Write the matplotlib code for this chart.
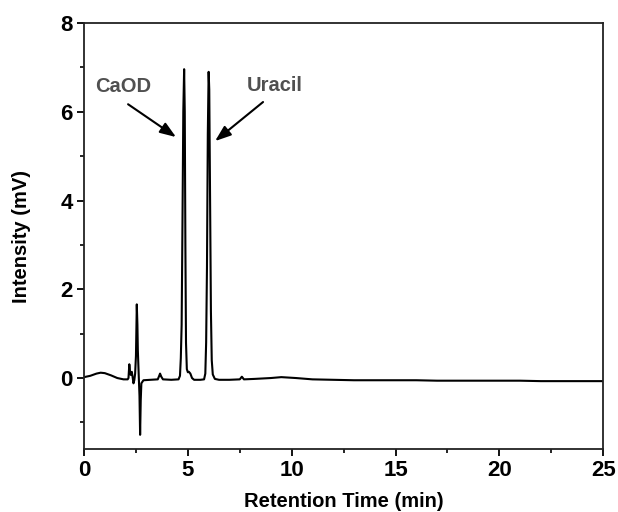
import matplotlib
matplotlib.use("Agg")
import matplotlib.pyplot as plt
from matplotlib.ticker import MultipleLocator

plt.rcParams['font.family'] = ['Liberation Sans', 'DejaVu Sans']
plt.rcParams['font.weight'] = 'bold'

# chromatogram trace (min, mV)
time_min = [0.0, 0.3, 0.6, 0.8, 1.0, 1.3, 1.6, 1.9, 2.1, 2.14, 2.18, 2.22, 2.25,
            2.30, 2.34, 2.38, 2.42, 2.46, 2.50, 2.54, 2.57, 2.59, 2.63, 2.67, 2.70,
            2.73, 2.76, 2.86, 3.2, 3.55, 3.62, 3.66, 3.72, 3.8, 4.2, 4.55, 4.62,
            4.66, 4.70, 4.74, 4.78, 4.82, 4.85, 4.88, 4.91, 4.95, 5.0, 5.05, 5.12,
            5.2, 5.3, 5.6, 5.78, 5.84, 5.88, 5.92, 5.96, 6.0, 6.03, 6.07, 6.11,
            6.15, 6.2, 6.3, 6.5, 7.0, 7.5, 7.6, 7.7, 8.2, 9.0, 9.5, 10.2, 11.0,
            12.0, 13.0, 14.0, 15.0, 16.0, 17.0, 18.0, 19.0, 20.0, 21.0, 22.0,
            23.0, 24.0, 25.0]
intensity_mv = [0.02, 0.05, 0.1, 0.12, 0.11, 0.06, 0.0, -0.03, -0.03, 0.0, 0.31, 0.12,
                0.07, 0.14, 0.02, -0.12, -0.05, 0.1, 0.5, 1.66, 1.2, 0.63, 0.1, -0.4,
                -1.28, -0.5, -0.12, -0.05, -0.04, -0.03, 0.05, 0.1, 0.03, -0.03, -0.04,
                -0.03, 0.05, 0.45, 1.2, 3.5, 6.0, 6.96, 6.0, 3.0, 0.8, 0.2, 0.13,
                0.14, 0.1, 0.0, -0.04, -0.04, -0.03, 0.1, 0.8, 2.5, 5.5, 6.9, 6.5,
                4.0, 1.5, 0.4, 0.08, -0.02, -0.04, -0.04, -0.03, 0.03, -0.03, -0.02,
                0.0, 0.02, 0.0, -0.03, -0.04, -0.05, -0.05, -0.05, -0.05, -0.06,
                -0.06, -0.06, -0.06, -0.06, -0.07, -0.07, -0.07, -0.07]

peak_names = ["CaOD", "Uracil"]
label_xy = [(1.9, 6.57), (9.2, 6.6)]
arrow_tail = [(2.12, 6.17), (8.62, 6.22)]
arrow_head = [(4.43, 5.43), (6.31, 5.34)]

fig = plt.figure(figsize=(6.18, 5.12), dpi=100)
ax = fig.add_axes([0.136, 0.123, 0.84, 0.832])

ax.plot(time_min, intensity_mv, color="black", lw=1.5)

for name, (tx, ty), tail, head in zip(peak_names, label_xy, arrow_tail, arrow_head):
    ax.text(tx, ty, name, color="#505050", fontsize=14.5, fontweight="bold",
            ha="center", va="center")
    ax.annotate("", xy=head, xytext=tail,
                arrowprops=dict(arrowstyle="-|>,head_length=0.6,head_width=0.22",
                                color="black", lw=1.5,
                                mutation_scale=16, shrinkA=0, shrinkB=0))

ax.set_xlim(0, 25)
ax.set_ylim(-1.6, 8)
ax.xaxis.set_major_locator(MultipleLocator(5))
ax.xaxis.set_minor_locator(MultipleLocator(2.5))
ax.yaxis.set_major_locator(MultipleLocator(2))
ax.yaxis.set_minor_locator(MultipleLocator(1))
ax.set_yticks([0, 2, 4, 6, 8])

ax.tick_params(which="major", direction="out", length=5, width=1.3, labelsize=16, pad=3)
ax.tick_params(which="minor", direction="out", length=3, width=1.2)
for lab in ax.get_xticklabels() + ax.get_yticklabels():
    lab.set_fontweight("bold")

for sp in ax.spines.values():
    sp.set_linewidth(1.3)
    sp.set_color("#222222")

ax.set_xlabel("Retention Time (min)", fontsize=14.5, fontweight="bold", labelpad=8)
ax.set_ylabel("Intensity (mV)", fontsize=14.5, fontweight="bold", labelpad=21)

fig.savefig("out.png", dpi=100)
